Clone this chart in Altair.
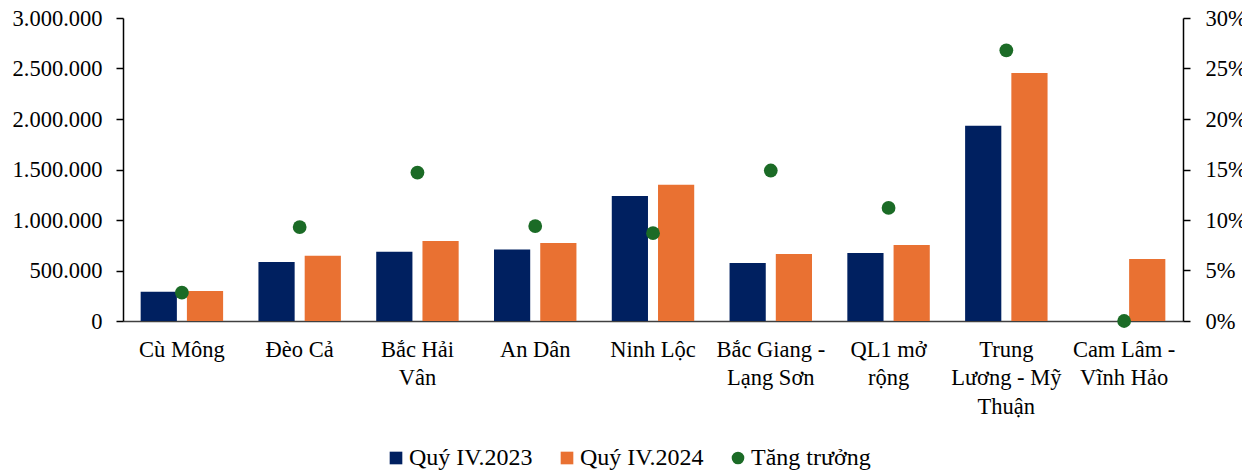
import altair as alt
import pandas as pd

categories = ["Cù Mông", "Đèo Cả", "Bắc Hải|Vân", "An Dân", "Ninh Lộc",
              "Bắc Giang -|Lạng Sơn", "QL1 mở|rộng", "Trung|Lương - Mỹ|Thuận",
              "Cam Lâm -|Vĩnh Hảo"]
q4_2023 = [290000, 585000, 685000, 708000, 1238000, 575000, 673000, 1932000, 0]
q4_2024 = [298000, 645000, 792000, 772000, 1348000, 663000, 752000, 2455000, 614000]
growth = [0.028, 0.093, 0.147, 0.094, 0.087, 0.149, 0.112, 0.268, 0.0]

s1, s2, s3 = "Quý IV.2023", "Quý IV.2024", "Tăng trưởng"
series_order = [s1, s2, s3]
colors = ["#002060", "#E97132", "#1B6B26"]
shapes = ["square", "square", "circle"]

bars = pd.DataFrame(
    [{"cat": c, "series": s1, "value": v} for c, v in zip(categories, q4_2023)]
    + [{"cat": c, "series": s2, "value": v} for c, v in zip(categories, q4_2024)]
)
pts = pd.DataFrame([{"cat": c, "series": s3, "g": g} for c, g in zip(categories, growth)])

FONT = "Liberation Serif"
AX = 22.5

xscale = alt.Scale(domain=categories, paddingInner=0.3, paddingOuter=0.15)
color_scale = alt.Scale(domain=series_order, range=colors)

xaxis = alt.Axis(labelExpr="split(datum.label, '|')", labelAngle=0,
                 ticks=False, domainColor="#404040", domainWidth=1.5,
                 labelFont=FONT, labelFontSize=AX, labelColor="black",
                 labelPadding=17, labelLineHeight=28.5, labelBaseline="top")

bar_layer = alt.Chart(bars).mark_bar().encode(
    x=alt.X("cat:N", sort=categories, scale=xscale, title=None, axis=xaxis),
    xOffset=alt.XOffset("series:N", sort=[s1, s2],
                        scale=alt.Scale(domain=[s1, s2], paddingInner=0.217, paddingOuter=0)),
    y=alt.Y("value:Q", scale=alt.Scale(domain=[0, 3000000]), title=None,
            axis=alt.Axis(values=[0, 500000, 1000000, 1500000, 2000000, 2500000, 3000000],
                          labelExpr="replace(format(datum.value, ',d'), /,/g, '.')",
                          grid=False, domainColor="black", domainWidth=1.5,
                          tickColor="black", tickWidth=1.5, tickSize=7,
                          labelFont=FONT, labelFontSize=AX, labelColor="black",
                          labelPadding=14)),
    color=alt.Color("series:N", scale=color_scale, title=None,
                    legend=alt.Legend(orient="none", legendX=261, legendY=428,
                                      direction="horizontal", labelFont=FONT,
                                      labelFontSize=24, labelColor="black",
                                      symbolSize=160, columnPadding=22,
                                      labelOffset=1, symbolStrokeWidth=0)),
)

pt_layer = alt.Chart(pts).mark_point(filled=True, size=190, opacity=1).encode(
    x=alt.X("cat:N", sort=categories, scale=xscale, title=None, axis=xaxis),
    y=alt.Y("g:Q", scale=alt.Scale(domain=[0, 0.3]), title=None,
            axis=alt.Axis(orient="right", values=[0, 0.05, 0.1, 0.15, 0.2, 0.25, 0.3],
                          format=".0%", grid=False, domainColor="black", domainWidth=1.5,
                          tickColor="black", tickWidth=1.5, tickSize=7,
                          labelFont=FONT, labelFontSize=AX, labelColor="black",
                          labelPadding=15)),
    color=alt.Color("series:N", scale=color_scale, title=None),
    shape=alt.Shape("series:N", scale=alt.Scale(domain=series_order, range=shapes), title=None),
)

chart = alt.layer(bar_layer, pt_layer).resolve_scale(y="independent").properties(
    width=1060, height=303,
    autosize=alt.AutoSizeParams(type="none"),
    padding={"left": 123, "top": 18, "right": 59, "bottom": 152},
    background="white",
).configure_view(stroke=None)

chart.save("out.html", embed_options={"renderer": "svg", "actions": False})
